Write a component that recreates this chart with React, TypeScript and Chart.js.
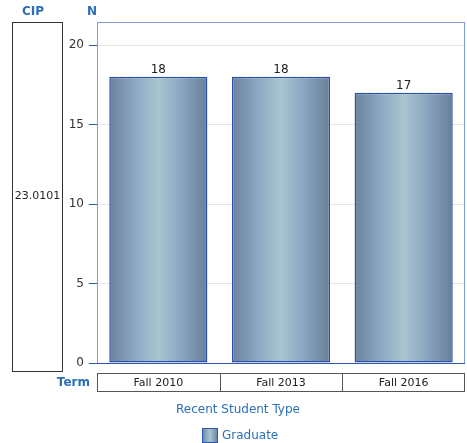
import React, { useEffect, useRef } from "react";
import { Chart, registerables } from "chart.js";

Chart.register(...registerables);

const categories = ["Fall 2010", "Fall 2013", "Fall 2016"];
const graduateValues = [18, 18, 17];
const yTicks = [0, 5, 10, 15, 20];
const cipLabel = "23.0101";
const seriesName = "Graduate";
const legendTitle = "Recent Student Type";

const FONT = "'DejaVu Sans', Verdana, sans-serif";
const BLUE_TEXT = "#2a6fb8";

function barGradient(ctx: CanvasRenderingContext2D, left: number, right: number) {
  const g = ctx.createLinearGradient(left, 0, right, 0);
  g.addColorStop(0, "#6a829d");
  g.addColorStop(0.25, "#8ba6c2");
  g.addColorStop(0.5, "#a9c5d0");
  g.addColorStop(0.75, "#88a3bf");
  g.addColorStop(1, "#687f98");
  return g;
}

const decorPlugin = {
  id: "decor",
  beforeDatasetsDraw(chart: any) {
    const { ctx, chartArea } = chart;
    ctx.save();
    ctx.strokeStyle = "#7f9cd8";
    ctx.lineWidth = 1;
    ctx.strokeRect(chartArea.left + 0.5, chartArea.top + 0.5, chartArea.right - chartArea.left - 1, chartArea.bottom - chartArea.top);
    ctx.restore();
  },
  afterDraw(chart: any) {
    const { ctx, chartArea } = chart;
    const xs = chart.scales.x;
    ctx.save();
    ctx.strokeStyle = "#2f57b0";
    ctx.lineWidth = 1;
    ctx.beginPath();
    ctx.moveTo(chartArea.left - 8, chartArea.bottom + 0.5);
    ctx.lineTo(chartArea.right, chartArea.bottom + 0.5);
    ctx.stroke();

    ctx.fillStyle = BLUE_TEXT;
    ctx.font = `bold 12px ${FONT}`;
    ctx.textAlign = "center";
    ctx.textBaseline = "middle";
    ctx.fillText("CIP", 33, 12);
    ctx.fillText("N", 92, 12);

    ctx.strokeStyle = "#333333";
    ctx.strokeRect(12.5, 22.5, 50, 349);
    ctx.fillStyle = "#222222";
    ctx.font = `11px ${FONT}`;
    ctx.fillText(cipLabel, 37.5, 196);

    const top = 373;
    const h = 18;
    ctx.strokeStyle = "#555555";
    ctx.strokeRect(chartArea.left + 0.5, top + 0.5, chartArea.right - chartArea.left - 1, h);
    const step = (chartArea.right - chartArea.left) / categories.length;
    for (let i = 1; i < categories.length; i++) {
      const x = Math.round(chartArea.left + step * i) + 0.5;
      ctx.beginPath();
      ctx.moveTo(x, top);
      ctx.lineTo(x, top + h + 1);
      ctx.stroke();
    }
    ctx.fillStyle = "#222222";
    ctx.font = `11px ${FONT}`;
    categories.forEach((c, i) => {
      ctx.fillText(c, xs.getPixelForValue(i), top + h / 2 + 1);
    });
    ctx.fillStyle = BLUE_TEXT;
    ctx.font = `bold 12px ${FONT}`;
    ctx.textAlign = "right";
    ctx.fillText("Term", 90, top + h / 2 + 1);

    ctx.textAlign = "center";
    ctx.font = `12px ${FONT}`;
    ctx.fillText(legendTitle, 238, 410);
    const sx = 202, sy = 428, sw = 16, sh = 15;
    ctx.fillStyle = barGradient(ctx, sx, sx + sw);
    ctx.fillRect(sx, sy, sw, sh);
    ctx.strokeStyle = "#2f57b0";
    ctx.strokeRect(sx + 0.5, sy + 0.5, sw - 1, sh - 1);
    ctx.fillStyle = BLUE_TEXT;
    ctx.textAlign = "left";
    ctx.fillText(seriesName, 222, 436);

    const meta = chart.getDatasetMeta(0);
    ctx.fillStyle = "#222222";
    ctx.font = `12px ${FONT}`;
    ctx.textAlign = "center";
    ctx.textBaseline = "bottom";
    meta.data.forEach((bar: any, i: number) => {
      ctx.fillText(String(graduateValues[i]), bar.x, bar.y - 1);
    });
    ctx.restore();
  },
};

export default function App() {
  const ref = useRef<HTMLCanvasElement>(null);
  useEffect(() => {
    if (!ref.current) return;
    const chart = new Chart(ref.current, {
      type: "bar",
      data: {
        labels: categories,
        datasets: [
          {
            label: seriesName,
            data: graduateValues,
            backgroundColor: (c: any) => {
              const ch = c.chart;
              const xs = ch.scales?.x;
              if (!xs || c.dataIndex === undefined) return "#8aa5c0";
              const cx = xs.getPixelForValue(c.dataIndex);
              const half = (xs.width / categories.length) * 0.8 / 2;
              if (!Number.isFinite(cx) || !Number.isFinite(half) || half <= 0) return "#8aa5c0";
              return barGradient(ch.ctx, cx - half, cx + half);
            },
            borderColor: "#2a4fa8",
            borderWidth: 1.5,
            borderSkipped: false,
            barPercentage: 0.8,
            categoryPercentage: 1,
          },
        ],
      },
      options: {
        responsive: false,
        animation: false,
        layout: { padding: { left: 0, right: 2, top: 22, bottom: 80 } },
        plugins: { legend: { display: false }, tooltip: { enabled: false } },
        scales: {
          x: { display: false },
          y: {
            min: 0,
            max: 21.45,
            afterBuildTicks: (s: any) => {
              s.ticks = yTicks.map((v) => ({ value: v }));
            },
            afterFit: (s: any) => {
              s.width = 97;
            },
            grid: {
              color: (c: any) => (c.tick && c.tick.value === 0 ? "rgba(0,0,0,0)" : "#e6e6e6"),
              tickColor: "#2f57b0",
              tickLength: 8,
              drawTicks: true,
            },
            border: { color: "#8aa5dc" },
            ticks: {
              padding: 5,
              color: "#333333",
              font: { family: FONT, size: 12 },
            },
          },
        },
      },
      plugins: [decorPlugin],
    });
    return () => chart.destroy();
  }, []);
  return (
    <div style={{ position: "absolute", left: 0, top: 0, width: 467, height: 443, background: "#fff" }}>
      <canvas ref={ref} width={467} height={443} />
    </div>
  );
}
